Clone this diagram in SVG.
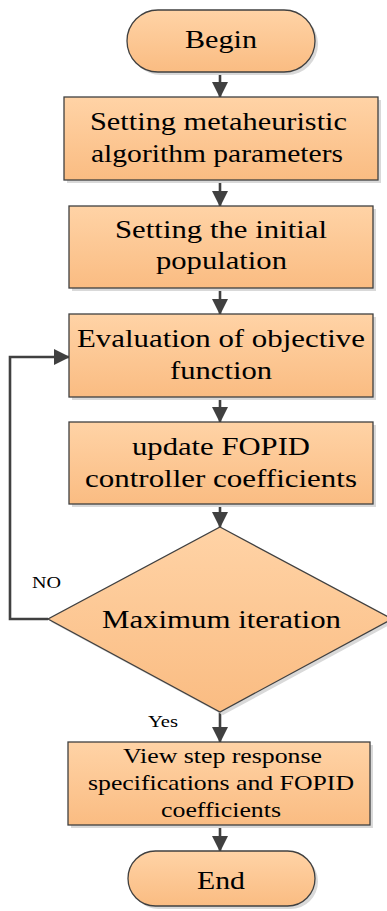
<svg xmlns="http://www.w3.org/2000/svg" width="387" height="911" viewBox="0 0 387 911">
<defs>
<linearGradient id="g" x1="0" y1="0" x2="0" y2="1">
<stop offset="0" stop-color="#FFD3A6"/>
<stop offset="1" stop-color="#FABC82"/>
</linearGradient>
<marker id="ah" markerUnits="userSpaceOnUse" markerWidth="16" markerHeight="16" refX="15" refY="8" orient="auto">
<path d="M0,0 L16,8 L0,16 z" fill="#404040"/>
</marker>
<style>
.sh{fill:#D9D9D9}
.nd{fill:url(#g);stroke:#404040;stroke-width:1.3}
text{font-family:'Liberation Serif','Times New Roman',Times,serif;fill:#000}
.t{font-size:26px}
.s{font-size:22px}
.l{font-size:16px}
.c{fill:none;stroke:#404040;stroke-width:2.6;marker-end:url(#ah)}
</style>
</defs>
<rect width="387" height="911" fill="#fff"/>
<g id="connectors">
<line class="c" x1="220" y1="72" x2="220" y2="97"/>
<line class="c" x1="220" y1="180" x2="220" y2="206"/>
<line class="c" x1="220" y1="288" x2="220" y2="314"/>
<line class="c" x1="220" y1="397" x2="220" y2="422"/>
<line class="c" x1="220" y1="504" x2="220" y2="527"/>
<line class="c" x1="220" y1="712" x2="220" y2="742"/>
<line class="c" x1="220" y1="825" x2="220" y2="851"/>
<polyline class="c" points="48,619 10,619 10,357 69,357"/>
<text class="l" x="32" y="588" font-family="Liberation Serif" textLength="29" lengthAdjust="spacingAndGlyphs">NO</text>
<text class="l" x="148" y="727" font-family="Liberation Serif" textLength="30" lengthAdjust="spacingAndGlyphs">Yes</text>
</g>
<g id="begin">
<rect class="sh" x="130" y="13" width="188" height="62" rx="31"/>
<rect class="nd" x="127" y="10" width="188" height="62" rx="31"/>
<text class="t" x="185" y="48" font-family="Liberation Serif" textLength="72" lengthAdjust="spacingAndGlyphs">Begin</text>
</g>
<g id="box1">
<rect class="sh" x="67" y="100" width="314" height="83"/>
<rect class="nd" x="64" y="97" width="314" height="83"/>
<text class="t" x="90" y="130" font-family="Liberation Serif" textLength="257" lengthAdjust="spacingAndGlyphs">Setting metaheuristic</text>
<text class="t" x="91" y="162" font-family="Liberation Serif" textLength="252" lengthAdjust="spacingAndGlyphs">algorithm parameters</text>
</g>
<g id="box2">
<rect class="sh" x="72" y="209" width="304" height="82"/>
<rect class="nd" x="69" y="206" width="304" height="82"/>
<text class="t" x="115" y="238" font-family="Liberation Serif" textLength="212" lengthAdjust="spacingAndGlyphs">Setting the initial</text>
<text class="t" x="156" y="269" font-family="Liberation Serif" textLength="131" lengthAdjust="spacingAndGlyphs">population</text>
</g>
<g id="box3">
<rect class="sh" x="72" y="317" width="304" height="83"/>
<rect class="nd" x="69" y="314" width="304" height="83"/>
<text class="t" x="77" y="347" font-family="Liberation Serif" textLength="288" lengthAdjust="spacingAndGlyphs">Evaluation of objective</text>
<text class="t" x="170" y="379" font-family="Liberation Serif" textLength="102" lengthAdjust="spacingAndGlyphs">function</text>
</g>
<g id="box4">
<rect class="sh" x="72" y="425" width="304" height="82"/>
<rect class="nd" x="69" y="422" width="304" height="82"/>
<text class="t" x="132" y="455" font-family="Liberation Serif" textLength="178" lengthAdjust="spacingAndGlyphs">update FOPID</text>
<text class="t" x="85" y="487" font-family="Liberation Serif" textLength="272" lengthAdjust="spacingAndGlyphs">controller coefficients</text>
</g>
<g id="decision">
<polygon class="sh" points="223,530 395,622 223,715 51,622"/>
<polygon class="nd" points="220,527 392,619 220,712 48,619"/>
<text class="t" x="102" y="628" font-family="Liberation Serif" textLength="239" lengthAdjust="spacingAndGlyphs">Maximum iteration</text>
</g>
<g id="box5">
<rect class="sh" x="71" y="745" width="302" height="83"/>
<rect class="nd" x="68" y="742" width="302" height="83"/>
<text class="s" x="123" y="763" font-family="Liberation Serif" textLength="199" lengthAdjust="spacingAndGlyphs">View step response</text>
<text class="s" x="88" y="790" font-family="Liberation Serif" textLength="266" lengthAdjust="spacingAndGlyphs">specifications and FOPID</text>
<text class="s" x="161" y="817" font-family="Liberation Serif" textLength="120" lengthAdjust="spacingAndGlyphs">coefficients</text>
</g>
<g id="end">
<rect class="sh" x="131" y="854" width="187" height="55" rx="27.5"/>
<rect class="nd" x="128" y="851" width="187" height="55" rx="27.5"/>
<text class="t" x="197" y="889" font-family="Liberation Serif" textLength="48" lengthAdjust="spacingAndGlyphs">End</text>
</g>
</svg>
